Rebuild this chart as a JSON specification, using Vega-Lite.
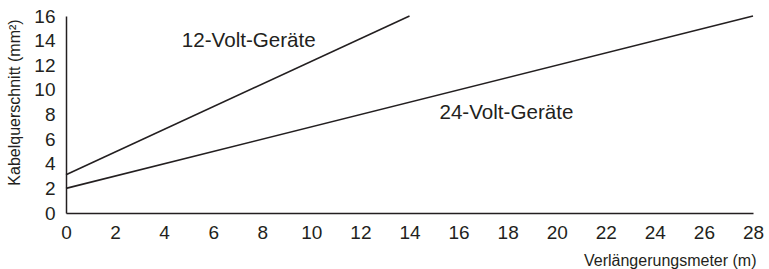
{
  "$schema": "https://vega.github.io/schema/vega-lite/v6.json",
  "autosize": {"type": "none"},
  "width": 687,
  "height": 197,
  "padding": {"left": 66, "top": 16, "right": 16, "bottom": 56},
  "background": "white",
  "config": {
    "view": {"stroke": null},
    "font": "Liberation Sans"
  },
  "data": {
    "values": [
      {"kind": "line", "series": "12-Volt-Geräte", "m": 0, "q": 3.1},
      {"kind": "line", "series": "12-Volt-Geräte", "m": 14, "q": 16},
      {"kind": "line", "series": "24-Volt-Geräte", "m": 0, "q": 2},
      {"kind": "line", "series": "24-Volt-Geräte", "m": 28, "q": 16},
      {"kind": "label", "series": "12-Volt-Geräte", "m": 4.72, "q": 13.5},
      {"kind": "label", "series": "24-Volt-Geräte", "m": 15.22, "q": 7.65}
    ]
  },
  "encoding": {
    "x": {
      "field": "m", "type": "quantitative",
      "scale": {"domain": [0, 28], "nice": false, "zero": true},
      "axis": {
        "values": [0, 2, 4, 6, 8, 10, 12, 14, 16, 18, 20, 22, 24, 26, 28],
        "title": "Verlängerungsmeter (m)",
        "grid": false, "ticks": false, "domainColor": "#231f20", "domainWidth": 1.5,
        "labelFontSize": 19, "labelColor": "#231f20", "labelPadding": 10,
        "labelFlush": false, "labelOverlap": false,
        "titleFontSize": 16, "titleFontWeight": "normal", "titleColor": "#231f20",
        "titleAnchor": "end", "titleAlign": "right", "titleX": 690, "titleY": 47,
        "titleBaseline": "middle"
      }
    },
    "y": {
      "field": "q", "type": "quantitative",
      "scale": {"domain": [0, 16], "nice": false},
      "axis": {
        "values": [0, 2, 4, 6, 8, 10, 12, 14, 16],
        "title": "Kabelquerschnitt (mm²)",
        "grid": false, "ticks": false, "domainColor": "#231f20", "domainWidth": 1.5,
        "labelFontSize": 19, "labelColor": "#231f20", "labelPadding": 11,
        "labelFlush": false, "labelOverlap": false,
        "titleFontSize": 16, "titleFontWeight": "normal", "titleColor": "#231f20",
        "titleX": -52, "titleY": 86, "titleBaseline": "middle", "titleAlign": "center"
      }
    }
  },
  "layer": [
    {
      "transform": [{"filter": "datum.kind === 'line'"}],
      "mark": {"type": "line", "color": "#231f20", "strokeWidth": 1.6},
      "encoding": {"detail": {"field": "series"}}
    },
    {
      "transform": [{"filter": "datum.kind === 'label'"}],
      "mark": {"type": "text", "fontSize": 20.6, "align": "left", "baseline": "alphabetic", "color": "#231f20"},
      "encoding": {"text": {"field": "series"}}
    }
  ]
}
